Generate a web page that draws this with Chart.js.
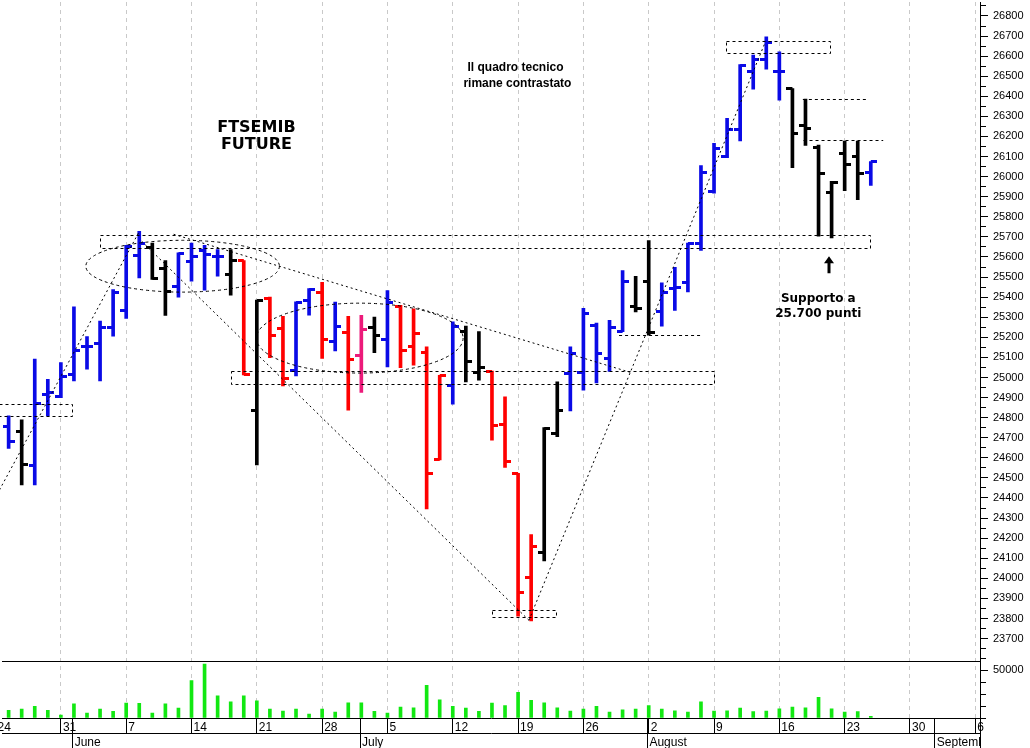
<!DOCTYPE html>
<html><head><meta charset="utf-8">
<script src="https://cdn.jsdelivr.net/npm/chart.js@4.4.1/dist/chart.umd.min.js"></script>
<style>html,body{margin:0;padding:0;background:#fff;overflow:hidden}#wrap{width:1030px;height:748px;position:relative;background:#fff}</style>
</head><body><div id="wrap"><canvas id="c" width="1030" height="748"></canvas></div>
<script>
// ---- data: trading-day index (0 = Mon 24 May 2021) ----
const dayIdx = [1,2,3,4,5,6,7,8,9,10,11,12,13,14,15,16,17,18,19,20,21,22,23,24,25,26,27,28,29,30,31,32,33,34,35,36,37,38,39,40,41,42,43,44,45,46,47,48,49,50,51,52,53,54,55,56,57,58,59,60,61,62,63,64,65,66,67];
const opens  = [24754,24730,24564,24917,24903,25016,25152,25170,25247,25334,25608,25648,25545,25454,25575,25632,25603,25513,25582,24837,25393,25244,25036,25383,25425,25180,25226,25107,25247,25190,25354,25152,25122,24594,24958,25230,25024,25032,24764,24520,24006,24130,24721,25019,25024,25259,25093,25228,25355,25479,25327,25443,25474,25669,25926,26100,26237,26525,26585,26522,26439,26257,26145,25923,26113,26102,26020];
const highs  = [24809,24789,25091,24991,25074,25352,25203,25281,25438,25658,25728,25669,25582,25620,25669,25658,25637,25637,25582,25385,25400,25305,25377,25443,25474,25375,25305,25310,25301,25433,25359,25342,25152,25011,25277,25256,25228,25032,24903,24523,24218,24751,24978,25153,25344,25271,25284,25532,25504,25681,25471,25549,25669,26055,26166,26290,26558,26605,26696,26621,26439,26386,26157,25976,26177,26177,26075];
const lows   = [24647,24465,24465,24809,24900,24983,25041,24983,25206,25294,25496,25488,25309,25400,25479,25435,25504,25410,25013,24564,25098,24958,25008,25310,25095,25132,24837,24925,25123,25052,25049,25061,24346,24589,24867,24978,24986,24688,24552,23811,23788,24086,24705,24834,24937,24973,25030,25228,25327,25211,25256,25334,25426,25632,25918,26095,26178,26436,26535,26381,26045,26155,25703,25695,25930,25885,25956];
const closes = [24680,24569,24870,24925,25004,25132,25152,25247,25425,25653,25665,25493,25430,25617,25603,25612,25603,25582,25013,25385,25208,24994,25372,25440,25190,25256,25089,25239,25211,25375,25135,25221,24523,25008,25256,25081,25052,24759,24582,23927,24160,24748,24834,25118,25320,25120,25247,25476,25345,25223,25421,25446,25669,26020,26141,26237,26555,26585,26667,26522,26216,26240,26017,25971,26062,26015,26075];
const barKind = ['b','k','b','b','b','b','b','b','b','b','b','k','k','b','b','b','b','k','r','k','r','r','b','b','r','b','r','p','k','b','r','r','r','r','b','k','k','r','r','r','r','k','k','b','b','b','b','b','k','k','b','b','b','b','b','b','b','b','b','b','k','k','k','k','k','k','b'];
const volumes = [7900,9400,12100,7900,3100,14900,5200,9400,6900,15600,15200,5200,14900,10400,39200,56200,23200,17000,23200,18000,9400,7300,9400,4200,9400,6300,15900,15900,6900,5200,11500,10700,34000,19100,12100,10400,6900,15600,12900,26800,18400,15900,10600,7300,9400,12100,6300,8600,9400,13100,9400,7600,6300,17000,7300,7600,10400,6600,7300,9700,11500,10700,21500,9700,6300,6600,1700];

// ---- axis ticks ----
const weekTickIdx    = [0,5,10,15,20,25,30,35,40,45,50,55,60,65,70,75];
const weekTickLabels = ['24','31','7','14','21','28','5','12','19','26','2','9','16','23','30','6'];
const monthTickIdx    = [5.9,27.9,49.9,71.9];
const monthTickLabels = ['June','July','August','September'];
const priceLabelValues = [23700,23800,23900,24000,24100,24200,24300,24400,24500,24600,24700,24800,24900,25000,25100,25200,25300,25400,25500,25600,25700,25800,25900,26000,26100,26200,26300,26400,26500,26600,26700,26800];
const priceMinorValues = [23600,23650,23750,23850,23950,24050,24150,24250,24350,24450,24550,24650,24750,24850,24950,25050,25150,25250,25350,25450,25550,25650,25750,25850,25950,26050,26150,26250,26350,26450,26550,26650,26750,26850];
const volumeLabelValues = [50000];
const volumeMinorValues = [0,12500,25000,37500];

// ---- annotations (data coordinates) ----
const annoBoxes = [
  {x0:0.3, x1:5.89, y0:24809, y1:24867},
  {x0:8.0, x1:66.96, y0:25647, y1:25711},
  {x0:37.97, x1:42.9, y0:23805, y1:23841},
  {x0:18.0, x1:54.94, y0:24966, y1:25033},
  {x0:55.95, x1:63.9, y0:26613, y1:26674}
];
const annoHLines = [
  {x0:61.8, x1:66.7, y:26386},
  {x0:61.85, x1:67.95, y:26183},
  {x0:47.73, x1:53.97, y:25211}
];
const annoLines = [
  {x0:0.3, y0:24440, x1:10.96, y1:25722},
  {x0:11.19, y0:25678, x1:40.83, y1:23791},
  {x0:13.63, y0:25713, x1:48.77, y1:25022},
  {x0:40.83, y0:23791, x1:58.93, y1:26671}
];
const annoEllipses = [
  {cx:14.32, cy:25554, rx:7.41, ry:129},
  {cx:27.88, cy:25196, rx:7.91, ry:174}
];
const annoTexts = [
  {x:19.97, y:26244, text:'FTSEMIB', font:'bold 16px "DejaVu Sans", Verdana, sans-serif'},
  {x:19.97, y:26159, text:'FUTURE', font:'bold 16px "DejaVu Sans", Verdana, sans-serif'},
  {x:39.8, y:26542, text:'Il quadro tecnico', font:'bold 12px "Liberation Sans", Arial, sans-serif'},
  {x:39.95, y:26462, text:'rimane contrastato', font:'bold 12px "Liberation Sans", Arial, sans-serif'},
  {x:62.98, y:25390, text:'Supporto a', font:'bold 12px "DejaVu Sans", Verdana, sans-serif'},
  {x:62.98, y:25315, text:'25.700 punti', font:'bold 12px "DejaVu Sans", Verdana, sans-serif'}
];
const annoArrows = [{x:63.82, tip:25603, base:25519}];

const COLORS = {b:'#0a0ae6', k:'#000000', r:'#ff0000', p:'#ec1a7a'};
const VOL_MAX = 59375;

function tickImg(color, side){
  const c = document.createElement('canvas'); c.width = 12; c.height = 3;
  const g = c.getContext('2d'); g.fillStyle = color;
  if (side === 'L') g.fillRect(0,0,6,3); else g.fillRect(6,0,6,3);
  return c;
}
const openImgs = {}, closeImgs = {};
for (const k in COLORS){ openImgs[k] = tickImg(COLORS[k],'L'); closeImgs[k] = tickImg(COLORS[k],'R'); }

Chart.defaults.font.family = '"Liberation Sans", Arial, sans-serif';
Chart.defaults.color = '#000';

const annotationPlugin = {
  id:'anno',
  afterDatasetsDraw(chart){
    const ctx = chart.ctx, xs = chart.scales.x, ys = chart.scales.y;
    const X = v => xs.getPixelForValue(v), Y = v => ys.getPixelForValue(v);
    const h = v => Math.round(v) + 0.5;
    ctx.save();
    ctx.strokeStyle = '#000'; ctx.lineWidth = 1; ctx.setLineDash([3,3]);
    for (const b of annoBoxes){
      ctx.strokeRect(h(X(b.x0)), h(Y(b.y1)), Math.round(X(b.x1)-X(b.x0)), Math.round(Y(b.y0)-Y(b.y1)));
    }
    for (const l of annoHLines){
      ctx.beginPath(); ctx.moveTo(X(l.x0), h(Y(l.y))); ctx.lineTo(X(l.x1), h(Y(l.y))); ctx.stroke();
    }
    ctx.setLineDash([2,3]);
    for (const l of annoLines){
      ctx.beginPath(); ctx.moveTo(X(l.x0), Y(l.y0)); ctx.lineTo(X(l.x1), Y(l.y1)); ctx.stroke();
    }
    ctx.setLineDash([3,3]);
    for (const e of annoEllipses){
      const cx = X(e.cx), cy = Y(e.cy);
      const rx = X(e.cx + e.rx) - cx, ry = Y(e.cy - e.ry) - cy;
      ctx.beginPath(); ctx.ellipse(cx, cy, rx, ry, 0, 0, Math.PI*2); ctx.stroke();
    }
    ctx.setLineDash([]);
    ctx.fillStyle = '#000';
    ctx.textAlign = 'center'; ctx.textBaseline = 'middle';
    for (const t of annoTexts){
      ctx.font = t.font;
      ctx.fillText(t.text, X(t.x), Y(t.y));
    }
    for (const a of annoArrows){
      const x = Math.round(X(a.x)), yt = Y(a.tip), yb = Y(a.base);
      ctx.beginPath();
      ctx.moveTo(x, yt); ctx.lineTo(x+5, yt+7); ctx.lineTo(x+1.5, yt+7); ctx.lineTo(x+1.5, yb);
      ctx.lineTo(x-1.5, yb); ctx.lineTo(x-1.5, yt+7); ctx.lineTo(x-5, yt+7); ctx.closePath(); ctx.fill();
    }
    ctx.restore();
  },
  afterDraw(chart){
    const ctx = chart.ctx, ca = chart.chartArea, xm = chart.scales.xm;
    ctx.save();
    ctx.fillStyle = '#fff';
    ctx.fillRect(ca.right + 1, xm.top + 1, chart.width - ca.right, xm.bottom - xm.top);
    ctx.strokeStyle = '#000'; ctx.lineWidth = 1;
    ctx.beginPath(); ctx.moveTo(Math.round(ca.right)+0.5, ca.bottom); ctx.lineTo(Math.round(ca.right)+0.5, chart.height); ctx.stroke();
    ctx.restore();
  }
};

const ohlcHL = dayIdx.map((d,k) => ({x:d, y:[lows[k], highs[k]]}));
const ohlcO = dayIdx.map((d,k) => ({x:d, y:opens[k]}));
const ohlcC = dayIdx.map((d,k) => ({x:d, y:closes[k]}));
const vol = dayIdx.map((d,k) => ({x:d, y:volumes[k]}));

new Chart(document.getElementById('c'), {
  type:'bar',
  data:{ datasets:[
    {type:'scatter', data:ohlcO, xAxisID:'x', yAxisID:'y', pointStyle: barKind.map(k=>openImgs[k]), pointRadius:1, pointHoverRadius:1, order:1},
    {type:'scatter', data:ohlcC, xAxisID:'x', yAxisID:'y', pointStyle: barKind.map(k=>closeImgs[k]), pointRadius:1, pointHoverRadius:1, order:1},
    {type:'bar', data:ohlcHL, xAxisID:'x', yAxisID:'y', backgroundColor: barKind.map(k=>COLORS[k]), barThickness:3, grouped:false, order:2},
    {type:'bar', data:vol, xAxisID:'x', yAxisID:'yv', backgroundColor:'#12e812', barThickness:3, grouped:false, order:3}
  ]},
  options:{
    responsive:false, animation:false, devicePixelRatio:1,
    layout:{padding:0},
    plugins:{legend:{display:false}, tooltip:{enabled:false}},
    events:[],
    scales:{
      x:{ type:'linear', position:'bottom', weight:0, min:0.493, max:75.36, offset:false,
        afterBuildTicks: s => { s.ticks = weekTickIdx.concat(monthTickIdx).sort((a,b)=>a-b).map(v=>({value:v})); },
        afterFit: s => { s.height = 15; s.paddingLeft = 0; s.paddingRight = 0; },
        ticks:{ autoSkip:false, maxRotation:0, minRotation:0, align:'start', padding:-13, labelOffset:2,
          font:{size:12}, color:'#000',
          callback: v => { const i = weekTickIdx.indexOf(v); return i >= 0 ? weekTickLabels[i] : ''; } },
        grid:{ offset:false, color: c => (c.tick && weekTickIdx.includes(c.tick.value)) ? '#c9c9c9' : 'rgba(0,0,0,0)',
          tickColor:'#000', tickLength:15, lineWidth:1, drawOnChartArea:true, drawTicks:true },
        border:{ display:true, color:'#000', width:1, dash:[4,4] }
      },
      xm:{ type:'linear', position:'bottom', weight:1, min:0.493, max:75.36, offset:false,
        afterBuildTicks: s => { s.ticks = monthTickIdx.map(v=>({value:v})); },
        afterFit: s => { s.height = 15; s.paddingLeft = 0; s.paddingRight = 0; },
        ticks:{ autoSkip:false, maxRotation:0, minRotation:0, align:'start', padding:-13, labelOffset:2,
          font:{size:12}, color:'#000',
          callback: v => { const i = monthTickIdx.indexOf(v); return i >= 0 ? monthTickLabels[i] : ''; } },
        grid:{ offset:false, drawOnChartArea:false, tickColor:'#000', tickLength:15, drawTicks:true },
        border:{ display:true, color:'#000', width:1 }
      },
      y:{ type:'linear', position:'right', stack:'r', stackWeight:661, weight:0, min:23587.5, max:26869.5,
        afterBuildTicks: s => { s.ticks = priceLabelValues.concat(priceMinorValues).sort((a,b)=>a-b).map(v=>({value:v})); },
        afterFit: s => { s.width = 50; s.paddingTop = 0; s.paddingBottom = 0; },
        ticks:{ autoSkip:false, padding:5, font:{size:11}, color:'#000',
          callback: v => priceLabelValues.includes(v) ? String(v) : '' },
        grid:{ drawOnChartArea:false, drawTicks:true, tickLength:8, tickColor:'#000',
          tickBorderDash: c => (c.tick && priceLabelValues.includes(c.tick.value)) ? [] : [5,30] },
        border:{ display:true, color:'#000', width:1 }
      },
      yv:{ type:'linear', position:'right', stack:'r', stackWeight:57, weight:1, min:0, max:VOL_MAX,
        afterBuildTicks: s => { s.ticks = volumeMinorValues.concat(volumeLabelValues).concat([VOL_MAX]).sort((a,b)=>a-b).map(v=>({value:v})); },
        afterFit: s => { s.width = 50; s.paddingTop = 0; s.paddingBottom = 0; },
        ticks:{ autoSkip:false, padding:5, font:{size:11}, color:'#000',
          callback: v => volumeLabelValues.includes(v) ? String(v) : '' },
        grid:{ drawOnChartArea:true, drawTicks:true, tickLength:8,
          color: c => (c.tick && c.tick.value === VOL_MAX) ? '#000' : 'rgba(0,0,0,0)',
          tickColor: c => (c.tick && c.tick.value === VOL_MAX) ? 'rgba(0,0,0,0)' : '#000',
          tickBorderDash: c => (c.tick && volumeLabelValues.includes(c.tick.value)) ? [] : [5,30] },
        border:{ display:true, color:'#000', width:1, dash:[] }
      }
    }
  },
  plugins:[annotationPlugin]
});
</script>
</body></html>
